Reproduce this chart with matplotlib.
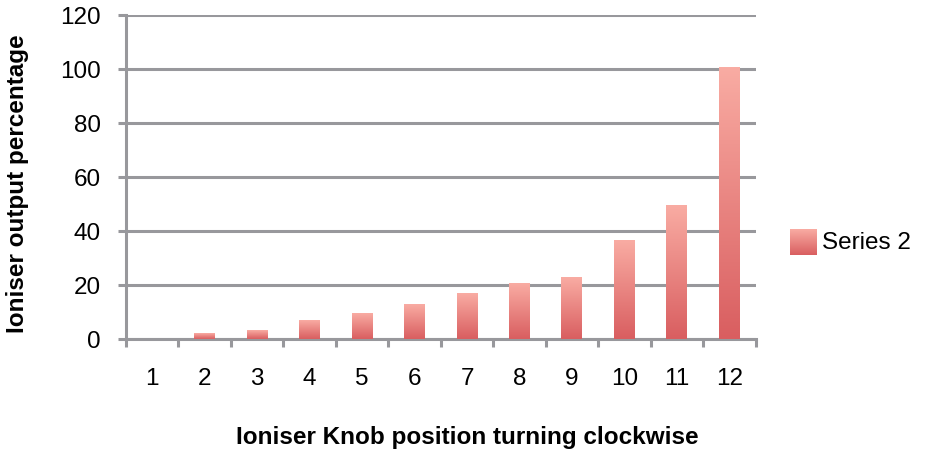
import matplotlib.pyplot as plt
import numpy as np
from matplotlib.colors import LinearSegmentedColormap

plt.rcParams['font.family'] = ['Liberation Sans', 'DejaVu Sans']

# data
knob_positions = ['1', '2', '3', '4', '5', '6', '7', '8', '9', '10', '11', '12']
output_pct = [0, 2.2, 3, 7, 9.6, 12.6, 16.9, 20.5, 22.8, 36.5, 49.6, 100.5]
series_name = 'Series 2'

grid_col = '#98989c'
top_col = '#f9aca3'
bot_col = '#d95e60'
cmap = LinearSegmentedColormap.from_list('bar', [bot_col, top_col])
fs = 17.5

fig = plt.figure(figsize=(9.26, 4.52), dpi=100)
ax = fig.add_axes([0.136, 0.248, 0.680, 0.717])

x = np.arange(len(knob_positions))
bar_w = 0.4
grad = np.linspace(0, 1, 256).reshape(-1, 1)
for xi, v in zip(x, output_pct):
    if v <= 0:
        continue
    # gradient fill from dark (bottom) to light (top)
    ax.imshow(grad, cmap=cmap, origin='lower', aspect='auto',
              extent=(xi - bar_w / 2, xi + bar_w / 2, 0, v), zorder=3,
              interpolation='bilinear')

ax.set_xlim(-0.5, len(knob_positions) - 0.5)
ax.set_ylim(0, 120)
ax.set_yticks(np.arange(0, 121, 20))
ax.yaxis.grid(True, color=grid_col, linewidth=2.2)
ax.set_axisbelow(True)

ax.set_xticks(x)
ax.set_xticklabels(knob_positions)
ax.set_xticks(np.arange(-0.5, len(knob_positions) + 0.5, 1), minor=True)
ax.tick_params(axis='x', which='major', length=0, pad=20, labelsize=fs)
ax.tick_params(axis='x', which='minor', length=5.5, width=2.2, color=grid_col)
ax.tick_params(axis='y', length=6, width=2.2, color=grid_col, labelsize=fs, pad=12)

for s in ['top', 'right']:
    ax.spines[s].set_visible(False)
for s in ['left', 'bottom']:
    ax.spines[s].set_color(grid_col)
    ax.spines[s].set_linewidth(2.2)

fig.text(18 / 926, 1 - 184 / 452, 'Ioniser output percentage', fontsize=fs,
         fontweight='bold', rotation=90, ha='center', va='center')
fig.text(467 / 926, 1 - 438 / 452, 'Ioniser Knob position turning clockwise',
         fontsize=fs, fontweight='bold', ha='center', va='center')

# legend with gradient swatch
lax = fig.add_axes([790 / 926, 1 - 256 / 452, 26 / 926, 26 / 452])
lax.imshow(grad, cmap=cmap, origin='lower', aspect='auto', extent=(0, 1, 0, 1))
lax.axis('off')
fig.text(822 / 926, 1 - 243 / 452, series_name, fontsize=fs, va='center', ha='left')

fig.savefig('out.png', dpi=100)
